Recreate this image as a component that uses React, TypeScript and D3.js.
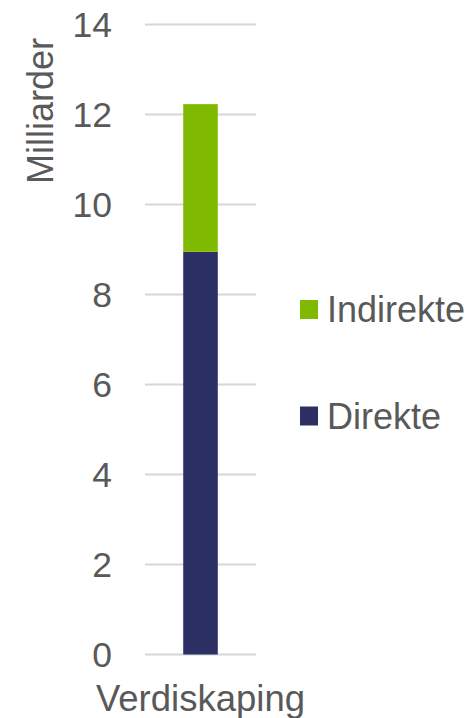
import React from "react";
import * as d3 from "d3";

const categories = ["Verdiskaping"];
const seriesNames = ["Direkte", "Indirekte"];
const direkte = [8.95];
const indirekte = [3.28];
const yTicks = [0, 2, 4, 6, 8, 10, 12, 14];
const colors = ["#2c2f64", "#7fba00"];
const yTitle = "Milliarder";

export default function App() {
  const W = 471, H = 718;
  const font = "'Liberation Sans', Arial, sans-serif";
  const y = d3.scaleLinear().domain([0, 14]).range([654.5, 24.5]);
  const x = d3.scaleBand().domain(categories).range([145, 256]).padding(0.525);
  const rows = categories.map((c, i) => ({ cat: c, Direkte: direkte[i], Indirekte: indirekte[i] }));
  const stacked = d3.stack<any>().keys(seriesNames)(rows);
  const legendItems = [
    { name: seriesNames[1], color: colors[1], y: 309.5 },
    { name: seriesNames[0], color: colors[0], y: 416 },
  ];
  return (
    <svg width={W} height={H} style={{ position: "absolute", left: 0, top: 0, background: "#fff" }} fontFamily={font}>
      {yTicks.map((t) => (
        <g key={t}>
          <line x1={145} x2={256} y1={y(t)} y2={y(t)} stroke="#d6d6d6" strokeWidth={1.8} />
          <text x={112} y={y(t)} dy="0.36em" textAnchor="end" fontSize={35.5} fill="#595959">{t}</text>
        </g>
      ))}
      {stacked.map((s, si) =>
        s.map((d, i) => (
          <rect key={si + "-" + i} x={x(categories[i])} width={x.bandwidth()} y={y(d[1])} height={y(d[0]) - y(d[1])} fill={colors[si]} />
        ))
      )}
      {categories.map((c) => (
        <text key={c} x={(x(c) as number) + x.bandwidth() / 2} y={711} textAnchor="middle" fontSize={36.5} fill="#595959">{c}</text>
      ))}
      <text transform="translate(53,111) rotate(-90)" textAnchor="middle" fontSize={36} fill="#595959">{yTitle}</text>
      {legendItems.map((l) => (
        <g key={l.name}>
          <rect x={300} y={l.y - 9.5} width={18} height={19} fill={l.color} />
          <text x={327} y={l.y} dy="0.36em" fontSize={36} fill="#595959">{l.name}</text>
        </g>
      ))}
    </svg>
  );
}
